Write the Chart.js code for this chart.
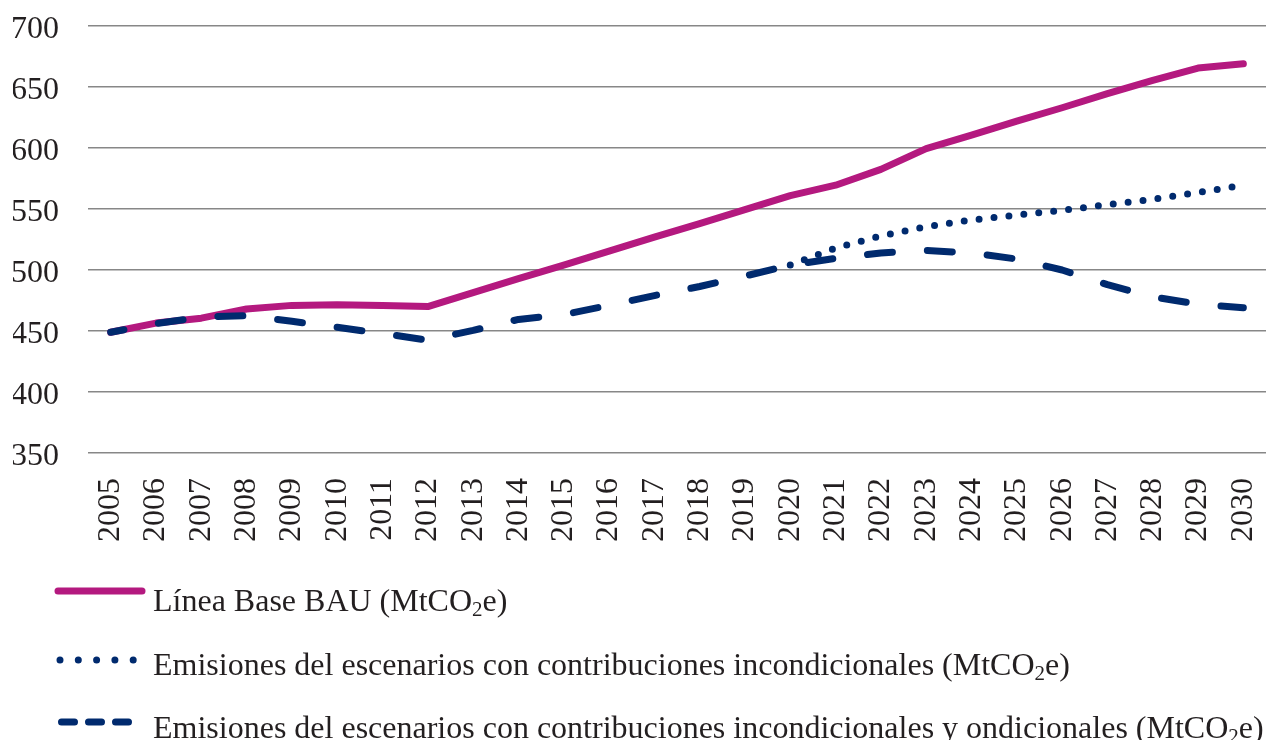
<!DOCTYPE html>
<html>
<head>
<meta charset="utf-8">
<script src="https://cdn.jsdelivr.net/npm/chart.js@4"></script>
<style>
  html, body { margin: 0; padding: 0; background: #fff; }
</style>
</head>
<body>
<canvas id="myChart" width="1266" height="740"></canvas>
<script>
const years = ["2005", "2006", "2007", "2008", "2009", "2010", "2011", "2012", "2013",
  "2014", "2015", "2016", "2017", "2018", "2019", "2020", "2021", "2022", "2023",
  "2024", "2025", "2026", "2027", "2028", "2029", "2030"];

const bau_values = [449, 456.5, 460.5, 468, 471, 471.5, 471, 470, 481.5, 493, 504, 515.5,
  527, 538, 549.5, 561, 569.5, 582.5, 599.5, 610.5, 622, 633, 644.5, 655.5, 665.5, 669];

// la serie incondicional solo se ve desde 2020
const uncond_values = [null, null, null, null, null, null, null, null, null, null, null,
  null, null, null, null, 504, 518, 528, 535.5, 541, 545, 549, 553.5, 558, 563.5, 569.5];

const cond_values = [449, 456, 461.5, 462.5, 458, 453, 448, 442.5, 450.5, 459.5, 463.5, 471,
  479, 486.5, 495, 504, 509.5, 514, 516, 514, 509, 500, 488, 478, 472, 469];

const series_labels = [
  "Línea Base BAU (MtCO₂e)",
  "Emisiones del escenarios con contribuciones incondicionales (MtCO₂e)",
  "Emisiones del escenarios con contribuciones incondicionales y ondicionales (MtCO₂e)"
];

const y_min = 350;
const y_max = 700;
const y_step = 50;

const magenta = "rgb(180, 25, 127)";
const navy = "rgb(0, 42, 110)";
const textColor = "#231f20";
const serif = "'Liberation Serif', 'DejaVu Serif', serif";

// escribe el texto con el "2" de CO2 como subindice
function drawLabel(ctx, text, x, y) {
  const parts = text.split("₂");
  ctx.fillStyle = textColor;
  ctx.textAlign = "left";
  ctx.textBaseline = "alphabetic";
  parts.forEach((p, k) => {
    ctx.font = "32px " + serif;
    ctx.fillText(p, x, y);
    x += ctx.measureText(p).width;
    if (k < parts.length - 1) {
      ctx.font = "21px " + serif;
      ctx.fillText("2", x, y + 5);
      x += ctx.measureText("2").width;
    }
  });
}

// leyenda en filas, como en el original
const rowLegend = {
  id: "rowLegend",
  afterDraw(chart) {
    const ctx = chart.ctx;
    const lineY = [591, 660, 722];
    const textY = [611, 675, 738];
    const samples = [
      { dash: [], from: 58, to: 142 },
      { dash: [0, 18.3], from: 60, to: 134 },
      { dash: [13, 14], from: 61.5, to: 128.5 }
    ];
    chart.data.datasets.forEach((ds, i) => {
      ctx.save();
      ctx.strokeStyle = ds.borderColor;
      ctx.lineWidth = 7;
      ctx.lineCap = "round";
      ctx.setLineDash(samples[i].dash);
      ctx.beginPath();
      ctx.moveTo(samples[i].from, lineY[i]);
      ctx.lineTo(samples[i].to, lineY[i]);
      ctx.stroke();
      ctx.restore();
      drawLabel(ctx, ds.label, 153, textY[i]);
    });
  }
};

const data = {
  labels: years,
  datasets: [
    {
      label: series_labels[0],
      data: bau_values,
      borderColor: magenta,
      backgroundColor: magenta,
      borderWidth: 7,
      borderCapStyle: "round",
      borderJoinStyle: "round",
      pointRadius: 0,
      order: 2,
    },
    {
      label: series_labels[1],
      data: uncond_values,
      borderColor: navy,
      backgroundColor: navy,
      borderWidth: 7,
      borderDash: [0, 15],
      borderCapStyle: "round",
      pointRadius: 0,
      order: 1,
    },
    {
      label: series_labels[2],
      data: cond_values,
      borderColor: navy,
      backgroundColor: navy,
      borderWidth: 7,
      borderDash: [25, 35],
      borderDashOffset: 11.5,
      borderCapStyle: "round",
      borderJoinStyle: "round",
      pointRadius: 0,
      order: 0,
    },
  ],
};

const config = {
  type: "line",
  data: data,
  options: {
    responsive: false,
    animation: false,
    devicePixelRatio: 1,
    layout: {
      padding: { top: 26, left: 13, right: 0, bottom: 197 },
    },
    plugins: {
      legend: { display: false },
      tooltip: { enabled: false },
    },
    scales: {
      x: {
        offset: true,
        grid: { display: false, drawTicks: false },
        border: { display: false },
        ticks: {
          autoSkip: false,
          minRotation: 90,
          maxRotation: 90,
          padding: 25,
          color: textColor,
          font: { family: serif, size: 32 },
        },
        afterFit(scale) {
          // sin margen extra a los lados del area del grafico
          scale.paddingLeft = 0;
          scale.paddingRight = 0;
          scale.height = 90;
        },
      },
      y: {
        min: y_min,
        max: y_max,
        border: { display: false },
        grid: { color: "#878787", lineWidth: 1.5, drawTicks: false },
        ticks: {
          stepSize: y_step,
          padding: 29,
          labelOffset: 4,
          color: textColor,
          font: { family: serif, size: 32 },
        },
        afterFit(scale) {
          scale.paddingTop = 0;
          scale.paddingBottom = 0;
          scale.width = 75;
        },
      },
    },
  },
  plugins: [rowLegend],
};

var myChart = new Chart(document.getElementById("myChart"), config);
</script>
</body>
</html>
